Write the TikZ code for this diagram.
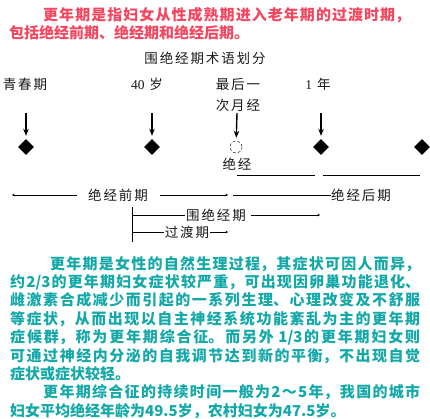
\documentclass[tikz,border=0pt]{standalone}
\usepackage{fontspec}
\setmainfont{Liberation Serif}
\newfontfamily\cjk{Noto Sans CJK SC}
\newfontfamily\cjklbl[LetterSpace=14]{Noto Sans CJK SC}
\usetikzlibrary{shapes.geometric,arrows.meta}
\XeTeXlinebreaklocale "zh"
\XeTeXlinebreakskip=0pt plus 3pt

\definecolor{introred}{RGB}{245,70,95}
\definecolor{bodyteal}{RGB}{20,168,168}
\definecolor{lblgray}{RGB}{25,25,25}

\tikzset{
  lbl/.style={font=\cjklbl\fontsize{13.5pt}{21pt}\selectfont, text=lblgray, inner sep=1pt, align=center},
  stage/.style={diamond, fill=black, minimum size=16pt, inner sep=0pt},
  menses/.style={circle, draw, densely dashed, thin, minimum size=12pt, inner sep=0pt},
  down/.style={-{Stealth[length=7pt,width=5.5pt]}, line width=1.4pt, shorten >=3pt},
  span/.style={line width=0.7pt},
  endtip/.style={-{Stealth[length=2.5pt,width=2.5pt]}},
  para/.style={anchor=north west, inner sep=0pt, align=justify,
    font=\cjk\bfseries\fontsize{15pt}{18.4pt}\selectfont}
}

\begin{document}
\begin{tikzpicture}[x=1pt,y=-1pt]
  \useasboundingbox (0,0) rectangle (430,418);
  % intro
  \node[para, text width=401pt, text=introred] (intro) at (9,7) {%
    \hspace*{34pt}更年期是指妇女从性成熟期进入老年期的过渡时期，\linebreak
    包括绝经前期、绝经期和绝经后期。};

  % term chart
  \node[lbl] (title) at (205,58) {围绝经期术语划分};
  \node[lbl] (youth) at (25,84) {青春期};
  \node[lbl] (forty) at (147,84) {\textrm{40} 岁};
  \node[lbl] (lastmp) at (238,94.5) {最后一\\次月经};
  \node[lbl] (oneyr) at (318,84) {\textrm{1} 年};

  \node[stage] (s1) at (26,147) {};
  \node[stage] (s2) at (152,147) {};
  \node[menses] (s3) at (236,147) {};
  \node[stage] (s4) at (321,147) {};
  \node[stage] (s5) at (422,147) {};
  \node[lbl] (meno) at (237,164) {绝经};

  \coordinate (a1) at (26,113);
  \coordinate (a2) at (152,113);
  \coordinate (a3) at (237,113);
  \coordinate (a4) at (321,113);
  \foreach \i in {1,...,4}
    \draw[down] (a\i) -- (s\i);

  \coordinate (b0) at (237,175);
  \coordinate (b1) at (315,175);
  \coordinate (b2) at (323,175);
  \coordinate (b3) at (420,175);
  \draw[span] (b0) -- (b1);
  \draw[span] (b2) -- (b3);

  \node[lbl] (pre) at (118,195) {绝经前期};
  \node[lbl, inner sep=0pt] (post) at (361,195) {绝经后期};
  \node[lbl] (peri) at (216,215) {围绝经期};
  \node[lbl] (trans) at (187,232) {过渡期};

  \coordinate (p0) at (12,195);
  \coordinate (p1) at (228,195);
  \coordinate (p2) at (233,195);
  \coordinate (q1) at (320,215);
  \coordinate (r1) at (228,232);
  \coordinate (v0) at (132,207);
  \coordinate (v1) at (132,242);
  \draw[span, endtip, shorten <=10pt] (pre.west) -- (p0);
  \draw[span, endtip, shorten <=11pt] (pre.east) -- (p1);
  \draw[span] (p2) -- (post.west);
  \draw[span] (v0) -- (v1);
  \draw[span] (peri.west) -- (peri.west -| v0);
  \draw[span, endtip, shorten <=4pt] (peri.east) -- (q1);
  \draw[span] (trans.west) -- (trans.west -| v0);
  \draw[span, endtip] (trans.east) -- (r1);

  % body text
  \node[para, text width=410pt, text=bodyteal] (body) at (10,256) {%
    \hspace*{40pt}更年期是女性的自然生理过程，其症状可因人而异，\linebreak
    约2/3的更年期妇女症状较严重，可出现因卵巢功能退化、\linebreak
    雌激素合成减少而引起的一系列生理、心理改变及不舒服\linebreak
    等症状，从而出现以自主神经系统功能紊乱为主的更年期\linebreak
    症候群，称为更年期综合征。而另外 1/3的更年期妇女则\linebreak
    可通过神经内分泌的自我调节达到新的平衡，不出现自觉\linebreak
    症状或症状较轻。\par
    \hspace*{33pt}更年期综合征的持续时间一般为2～5年，我国的城市\linebreak
    妇女平均绝经年龄为49.5岁，农村妇女为47.5岁。};
\end{tikzpicture}
\end{document}
